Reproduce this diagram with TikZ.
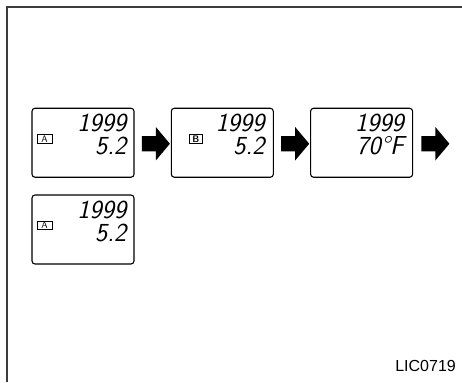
\documentclass[tikz,border=0pt]{standalone}
\usepackage{fontspec}
\usepackage{tikz}
\usetikzlibrary{shapes.arrows, positioning, calc}
\newfontfamily\codefont{Liberation Sans}
\definecolor{framegray}{RGB}{60, 60, 60}

\begin{document}
\begin{tikzpicture}[
    x=1pt, y=-1pt,
    display/.style={draw, line width=1.1pt, rounded corners=3pt, minimum width=102pt, minimum height=69pt, inner sep=0pt},
    lcd/.style={font=\fontsize{26}{23}\selectfont\sffamily\slshape, align=right, inner sep=0pt, anchor=base east},
    tag/.style={draw, line width=0.8pt, minimum width=15pt, minimum height=8.5pt, inner sep=0pt, font=\fontsize{9.5}{9.5}\selectfont\sffamily},
    blockarrow/.style={single arrow, fill=black, draw=none, minimum height=28pt, inner xsep=0pt, inner ysep=7.5pt, single arrow head extend=9pt, single arrow tip angle=100}
]
    \useasboundingbox (0,0) rectangle (462,382);

    % Frame
    \draw[framegray, line width=1.5pt] (7,382) |- (462,7);

    % Top row of displays
    \node[display] (disp1) at (83,142.75) {};
    \node[display] (disp2) at (222.3,142.75) {};
    \node[display] (disp3) at (361.6,142.75) {};

    \node[tag] (tagA) at ($(disp1.west)+(13,-4)$) {A};
    \node[lcd] (read1) at ($(disp1.north east)+(-8,47)$) {1999\\5.2};

    \node[tag, minimum width=13pt] (tagB) at ($(disp2.west)+(25,-4)$) {\bfseries B};
    \node[lcd] (read2) at ($(disp2.north east)+(-9,47)$) {1999\\5.2};

    \node[lcd] (read3) at ($(disp3.north east)+(-9,47)$) {1999\\70\textdegree F};

    % Arrows
    \node[blockarrow] (step1) at ($(disp1.east)!0.5!(disp2.west)+(0,1)$) {};
    \node[blockarrow] (step2) at ($(disp2.east)!0.5!(disp3.west)+(0,1)$) {};
    \node[blockarrow] (step3) at ($(disp3.east)+(19,1)$) {};

    % Back to the first display
    \node[display] (disp4) at (83,229.5) {};
    \node[tag] (tagA2) at ($(disp4.west)+(13,-4)$) {A};
    \node[lcd] (read4) at ($(disp4.north east)+(-8,47)$) {1999\\5.2};

    % Figure code
    \node[font=\codefont\fontsize{16}{16}\selectfont, anchor=base east, inner sep=0pt] (code) at (456,371) {LIC0719};

\end{tikzpicture}
\end{document}
